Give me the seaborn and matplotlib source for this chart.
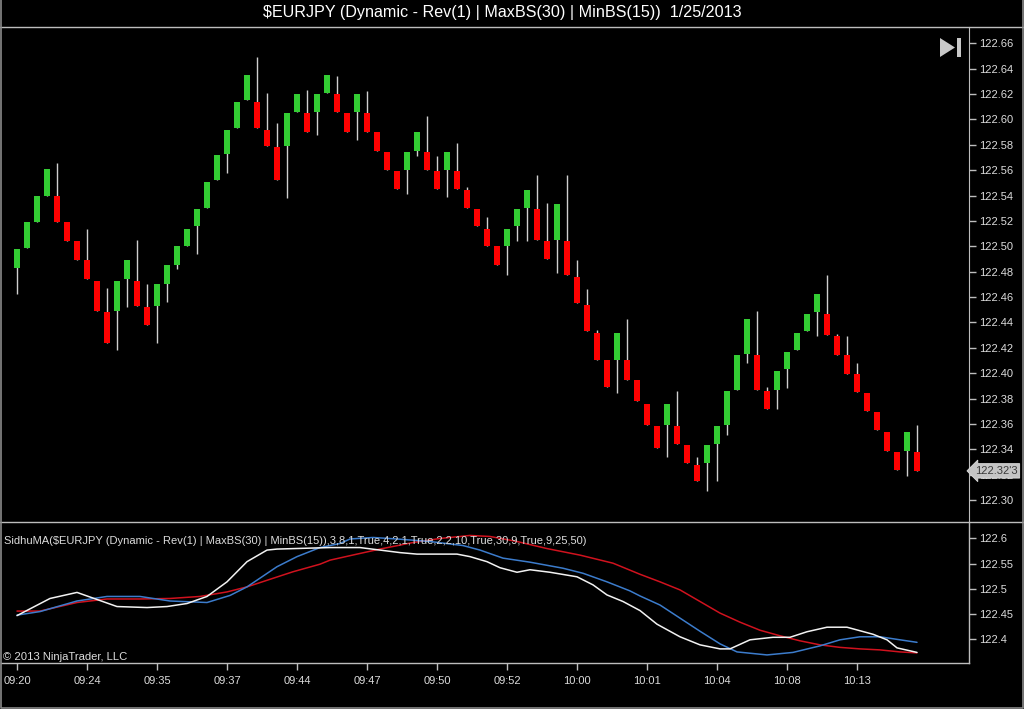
import numpy as np
import pandas as pd
import matplotlib
matplotlib.use("Agg")
import matplotlib.pyplot as plt
import matplotlib.transforms as mtransforms
from matplotlib.patches import Rectangle, Polygon
from matplotlib.lines import Line2D
import seaborn as sns

# renko bars (one entry per bar)
opens = [122.483, 122.499, 122.519, 122.540, 122.540, 122.519, 122.504, 122.489, 122.473, 122.448,
         122.449, 122.474, 122.473, 122.452, 122.453, 122.470, 122.485, 122.500, 122.516, 122.530,
         122.552, 122.573, 122.593, 122.615, 122.614, 122.592, 122.578, 122.579, 122.606, 122.605,
         122.606, 122.621, 122.620, 122.605, 122.606, 122.605, 122.590, 122.574, 122.559, 122.560,
         122.575, 122.574, 122.559, 122.560, 122.559, 122.544, 122.529, 122.514, 122.500, 122.500,
         122.516, 122.530, 122.529, 122.504, 122.505, 122.504, 122.476, 122.454, 122.432, 122.410,
         122.410, 122.410, 122.395, 122.376, 122.358, 122.359, 122.358, 122.343, 122.328, 122.329,
         122.344, 122.359, 122.387, 122.415, 122.414, 122.386, 122.387, 122.403, 122.418, 122.433,
         122.448, 122.447, 122.429, 122.414, 122.399, 122.384, 122.369, 122.354, 122.338, 122.339,
         122.338]
highs = [122.498, 122.519, 122.540, 122.561, 122.566, 122.519, 122.504, 122.514, 122.473, 122.467,
         122.473, 122.489, 122.505, 122.470, 122.470, 122.485, 122.500, 122.514, 122.529, 122.551,
         122.572, 122.592, 122.614, 122.635, 122.649, 122.621, 122.597, 122.605, 122.620, 122.623,
         122.620, 122.635, 122.634, 122.605, 122.620, 122.622, 122.590, 122.574, 122.559, 122.574,
         122.590, 122.603, 122.571, 122.574, 122.581, 122.547, 122.529, 122.523, 122.500, 122.514,
         122.529, 122.544, 122.556, 122.534, 122.533, 122.556, 122.489, 122.466, 122.434, 122.410,
         122.432, 122.443, 122.395, 122.376, 122.358, 122.376, 122.386, 122.343, 122.334, 122.343,
         122.358, 122.386, 122.414, 122.443, 122.449, 122.389, 122.402, 122.417, 122.432, 122.447,
         122.462, 122.477, 122.431, 122.429, 122.408, 122.384, 122.369, 122.354, 122.338, 122.354,
         122.359]
lows = [122.462, 122.499, 122.519, 122.540, 122.519, 122.504, 122.489, 122.474, 122.449, 122.424,
        122.418, 122.452, 122.453, 122.438, 122.424, 122.456, 122.482, 122.500, 122.494, 122.530,
        122.552, 122.558, 122.593, 122.615, 122.593, 122.579, 122.552, 122.538, 122.606, 122.590,
        122.588, 122.621, 122.606, 122.590, 122.584, 122.590, 122.575, 122.560, 122.545, 122.541,
        122.571, 122.560, 122.545, 122.539, 122.545, 122.530, 122.516, 122.500, 122.485, 122.477,
        122.504, 122.504, 122.505, 122.490, 122.479, 122.477, 122.455, 122.433, 122.410, 122.389,
        122.384, 122.395, 122.378, 122.359, 122.341, 122.334, 122.344, 122.329, 122.315, 122.307,
        122.315, 122.351, 122.387, 122.408, 122.387, 122.372, 122.372, 122.388, 122.418, 122.433,
        122.429, 122.430, 122.414, 122.399, 122.385, 122.370, 122.355, 122.339, 122.324, 122.319,
        122.323]
closes = [122.498, 122.519, 122.540, 122.561, 122.519, 122.504, 122.489, 122.474, 122.449, 122.424,
          122.473, 122.489, 122.453, 122.438, 122.470, 122.485, 122.500, 122.514, 122.529, 122.551,
          122.572, 122.592, 122.614, 122.635, 122.593, 122.579, 122.552, 122.605, 122.620, 122.590,
          122.620, 122.635, 122.606, 122.590, 122.620, 122.590, 122.575, 122.560, 122.545, 122.574,
          122.590, 122.560, 122.545, 122.574, 122.545, 122.530, 122.516, 122.500, 122.485, 122.514,
          122.529, 122.544, 122.505, 122.490, 122.533, 122.477, 122.455, 122.433, 122.410, 122.389,
          122.432, 122.395, 122.378, 122.359, 122.341, 122.376, 122.344, 122.329, 122.315, 122.343,
          122.358, 122.386, 122.414, 122.443, 122.387, 122.372, 122.402, 122.417, 122.432, 122.447,
          122.462, 122.430, 122.414, 122.399, 122.385, 122.370, 122.355, 122.339, 122.324, 122.354,
          122.323]

time_labels = ["09:20", "09:24", "09:35", "09:37", "09:44", "09:47", "09:50",
               "09:52", "10:00", "10:01", "10:04", "10:08", "10:13"]

# SidhuMA lines (bar position, value)
fast_x = [0, 3.3, 6, 10, 13, 15, 17, 19, 21, 23, 25, 26, 31.3, 34.3, 36.3, 38.3, 40, 44, 45.3, 47,
          48.3, 50, 51.3, 53.3, 56, 57.6, 59, 60.6, 62.3, 64, 66.3, 68.3, 70.3, 71.3, 73.3, 75.6,
          77.3, 79, 81, 83, 85.6, 87, 88, 90]
fast_y = [122.447, 122.481, 122.493, 122.465, 122.463, 122.465, 122.471, 122.485, 122.514, 122.554,
          122.577, 122.579, 122.582, 122.582, 122.577, 122.572, 122.569, 122.569, 122.564, 122.554,
          122.542, 122.533, 122.538, 122.533, 122.524, 122.508, 122.488, 122.475, 122.457, 122.430,
          122.405, 122.389, 122.381, 122.381, 122.399, 122.404, 122.404, 122.415, 122.424, 122.424,
          122.410, 122.399, 122.383, 122.374]
mid_x = [0, 2.3, 6, 9, 12.3, 15.3, 19, 21.3, 23, 26, 28, 30.3, 32.3, 33.3, 35.6, 38, 41.3, 44.6,
         46.3, 48.6, 51.3, 54.6, 56.6, 59, 61.3, 62.3, 64.3, 66.3, 68.3, 70.3, 72, 75, 77.6, 80.3,
         82.3, 84.3, 86.3, 88.3, 90]
mid_y = [122.448, 122.455, 122.476, 122.485, 122.485, 122.476, 122.473, 122.487, 122.504, 122.544,
         122.564, 122.582, 122.590, 122.599, 122.602, 122.599, 122.594, 122.586, 122.577, 122.561,
         122.553, 122.541, 122.531, 122.514, 122.496, 122.486, 122.468, 122.442, 122.416, 122.391,
         122.375, 122.369, 122.374, 122.387, 122.399, 122.405, 122.405, 122.399, 122.394]
slow_x = [0, 2.3, 6, 9, 12.3, 15.3, 18.3, 21, 23, 25.6, 27.6, 30.3, 31.3, 34, 36.3, 39.6, 42.3,
          45.3, 47.3, 50, 53, 56.3, 59.6, 62.3, 64.3, 66.3, 68.3, 70.3, 72.3, 74.3, 76.3, 78.3,
          80.3, 82.3, 84.3, 86.3, 88.3, 90]
slow_y = [122.456, 122.456, 122.473, 122.480, 122.480, 122.481, 122.485, 122.494, 122.504, 122.521,
          122.534, 122.549, 122.557, 122.569, 122.579, 122.592, 122.600, 122.606, 122.604, 122.594,
          122.580, 122.567, 122.551, 122.529, 122.514, 122.498, 122.475, 122.452, 122.434, 122.418,
          122.407, 122.397, 122.389, 122.384, 122.381, 122.379, 122.375, 122.373]

UP = "#33cc33"
DOWN = "#ff0000"
WICK = "#cfcfcf"
FRAME = "#bdbdbd"
TXT = "#dcdcdc"

sns.set_style("dark", {"axes.facecolor": "black", "figure.facecolor": "black"})
plt.rcParams["font.family"] = ["Liberation Sans", "DejaVu Sans"]

W, H = 1024, 709
fig = plt.figure(figsize=(W / 100, H / 100), dpi=100, facecolor="black")
ax = fig.add_axes([1 / W, 1 - 522 / H, 968 / W, 495 / H])
ax2 = fig.add_axes([1 / W, 1 - 663 / H, 968 / W, 141 / H])

bars = pd.DataFrame({"open": opens, "high": highs, "low": lows, "close": closes})
bars["bar"] = np.arange(len(bars))
bars["up"] = bars["close"] >= bars["open"]
bars["bottom"] = bars[["open", "close"]].min(axis=1)
bars["size"] = (bars["close"] - bars["open"]).abs()

ax.vlines(bars["bar"], bars["low"], bars["high"], color=WICK, lw=1, zorder=2)
ax.bar(bars["bar"], bars["size"], bottom=bars["bottom"], width=0.55,
       color=np.where(bars["up"], UP, DOWN), linewidth=0, zorder=3)

ax.set_xlim(-1.6, 95.2)
ax.set_ylim(122.2827, 122.6728)
ax.yaxis.tick_right()
ax.set_yticks(np.arange(122.30, 122.661, 0.02))
ax.yaxis.set_major_formatter(matplotlib.ticker.FormatStrFormatter("%.2f"))
ax.set_xticks([])
ax.tick_params(axis="y", colors=FRAME, labelcolor=TXT, labelsize=8, length=5, width=1,
               direction="out", pad=2, right=True)
for side in ["top", "left", "bottom"]:
    ax.spines[side].set_visible(False)
ax.spines["right"].set_color(FRAME)
ax.grid(False)

# last price marker (covers the tick label underneath, as in the platform)
last = closes[-1]
s = f"{last:.3f}"
blend = mtransforms.blended_transform_factory(ax.transAxes, ax.transData)
ax.text(1.006, last, s[:-1] + "'" + s[-1], transform=blend, va="center", ha="left",
        fontsize=8, color="#3a3a3a", zorder=10, clip_on=False,
        bbox=dict(boxstyle="larrow,pad=0.2", fc="#c4c4c4", ec="#dddddd", lw=0.6))

# indicator panel
ma = pd.concat([
    pd.DataFrame({"bar": slow_x, "value": slow_y, "series": "slow"}),
    pd.DataFrame({"bar": mid_x, "value": mid_y, "series": "mid"}),
    pd.DataFrame({"bar": fast_x, "value": fast_y, "series": "fast"}),
])
sns.lineplot(data=ma, x="bar", y="value", hue="series",
             palette={"slow": "#d0121e", "mid": "#3c7ccc", "fast": "#f2f2f2"},
             estimator=None, sort=False, lw=1.1, legend=False, ax=ax2)

ax2.set_xlim(-1.6, 95.2)
ax2.set_ylim(122.353, 122.6327)
ax2.yaxis.tick_right()
ax2.set_yticks([122.4, 122.45, 122.5, 122.55, 122.6])
ax2.set_yticklabels(["122.4", "122.45", "122.5", "122.55", "122.6"])
ax2.set_xticks(np.arange(len(time_labels)) * 7)
ax2.set_xticklabels(time_labels)
ax2.set_xlabel("")
ax2.set_ylabel("")
ax2.tick_params(axis="y", colors=FRAME, labelcolor=TXT, labelsize=8, length=5, width=1,
                direction="out", pad=2, right=True)
ax2.tick_params(axis="x", colors=FRAME, labelcolor=TXT, labelsize=8, length=5, width=1,
                direction="out", pad=4, bottom=True)
for side in ["top", "left"]:
    ax2.spines[side].set_visible(False)
for side in ["right", "bottom"]:
    ax2.spines[side].set_color(FRAME)
    ax2.spines[side].set_linewidth(1)
ax2.grid(False)

# frame lines and texts
for yp in [27, 522]:
    fig.add_artist(Line2D([0, 1], [1 - yp / H] * 2, transform=fig.transFigure, color=FRAME, lw=1))
fig.add_artist(Line2D([0.5 / W, 0.5 / W, 1 - 1 / W, 1 - 1 / W], [1, 1.5 / H, 1.5 / H, 1],
                      transform=fig.transFigure, color="#8a8a8a", lw=1.2))

fig.text(502 / W, 1 - 13 / H, "\\$EURJPY (Dynamic - Rev(1) | MaxBS(30) | MinBS(15))  1/25/2013",
         ha="center", va="center", color="white", fontsize=11.6)
fig.text(4 / W, 1 - 541 / H,
         "SidhuMA(\\$EURJPY (Dynamic - Rev(1) | MaxBS(30) | MinBS(15)),3,8,1,True,4,2,1,True,2,2,10,True,30,9,True,9,25,50)",
         ha="left", va="center", color=TXT, fontsize=8)
fig.text(3 / W, 1 - 657 / H, "\u00a9 2013 NinjaTrader, LLC", ha="left", va="center",
         color=TXT, fontsize=8.1)

# "jump to end" icon
fig.patches.append(Polygon([(940 / W, 1 - 38 / H), (940 / W, 1 - 57 / H), (955 / W, 1 - 47.5 / H)],
                           closed=True, transform=fig.transFigure, fc="#c8c8c8", ec="none"))
fig.patches.append(Rectangle((957 / W, 1 - 57 / H), 4 / W, 19 / H, transform=fig.transFigure,
                             fc="#c8c8c8", ec="none"))

fig.savefig("out.png", dpi=100, facecolor="black")
